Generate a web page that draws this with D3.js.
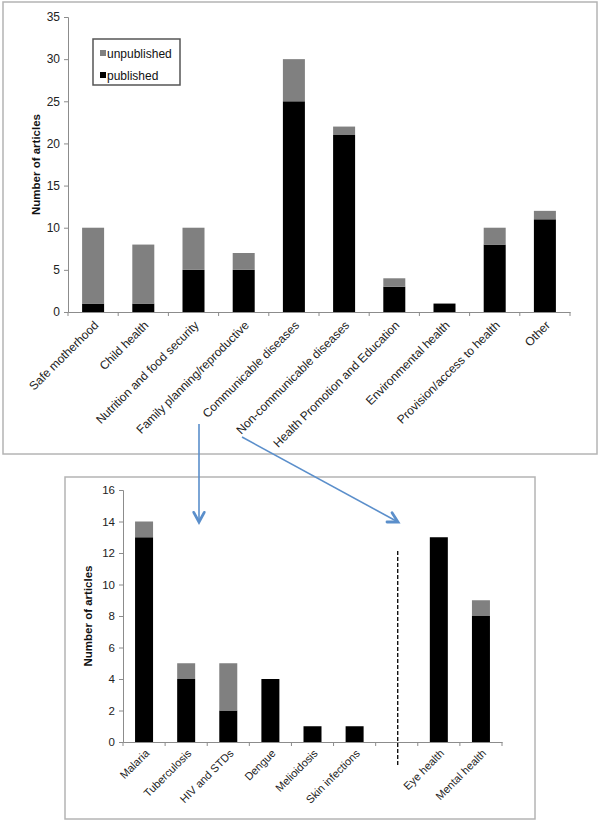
<!DOCTYPE html>
<html><head><meta charset="utf-8">
<script src="https://cdn.jsdelivr.net/npm/d3@7"></script>
<style>body{margin:0;background:#fff}svg{display:block}text{font-family:"Liberation Sans",Arial,sans-serif}</style>
</head><body>
<svg id="c" width="600" height="825"></svg>
<script>
const topCategories = ["Safe motherhood","Child health","Nutrition and food security","Family planning/reproductive","Communicable diseases","Non-communicable diseases","Health Promotion and Education","Environmental health","Provision/access to health","Other"];
const topPublished = [1,1,5,5,25,21,3,1,8,11];
const topUnpublished = [9,7,5,2,5,1,1,0,2,1];
const topTicks = [0,5,10,15,20,25,30,35];

const botCategories = ["Malaria","Tuberculosis","HIV and STDs","Dengue","Melioidosis","Skin infections","","Eye health","Mental health"];
const botPublished = [13,4,2,4,1,1,null,13,8];
const botUnpublished = [1,1,3,0,0,0,null,0,1];
const botTicks = [0,2,4,6,8,10,12,14,16];

const seriesNames = ["published","unpublished"];
const colors = {published:"#000000", unpublished:"#808080"};

const svg = d3.select("#c");

// panel borders
svg.append("rect").attr("x",3).attr("y",2).attr("width",594).attr("height",452)
  .attr("fill","none").attr("stroke","#b4b4b4").attr("stroke-width",1.5);
svg.append("rect").attr("x",65).attr("y",477).attr("width",470).attr("height",342)
  .attr("fill","none").attr("stroke","#b4b4b4").attr("stroke-width",1.5);

function drawChart(cfg){
  const g = svg.append("g");
  const x = d3.scaleBand().domain(d3.range(cfg.cats.length)).range([cfg.x0,cfg.x1]).padding(0);
  const y = d3.scaleLinear().domain([0,cfg.max]).range([cfg.y0,cfg.y1]);
  const rows = cfg.cats.map((c,i)=>({i, published:cfg.pub[i]||0, unpublished:cfg.unpub[i]||0}));
  const stack = d3.stack().keys(seriesNames)(rows);
  const bw = cfg.bw;
  stack.forEach(s=>{
    g.selectAll(null).data(s.filter(d=>d[1]>d[0])).enter().append("rect")
      .attr("x",d=>x(d.data.i)+x.bandwidth()/2-bw/2)
      .attr("width",bw)
      .attr("y",d=>y(d[1]))
      .attr("height",d=>y(d[0])-y(d[1]))
      .attr("fill",colors[s.key]);
  });
  // y axis
  const ya = g.append("g").attr("transform",`translate(${cfg.x0},0)`)
    .call(d3.axisLeft(y).tickValues(cfg.ticks).tickSize(4).tickPadding(4));
  ya.select(".domain").attr("stroke","#8c8c8c");
  ya.selectAll(".tick line").attr("stroke","#8c8c8c");
  ya.selectAll("text").attr("font-size",cfg.tickFont).attr("fill","#222").attr("font-family","Liberation Sans, Arial, sans-serif");
  // x axis
  const xa = g.append("g").attr("transform",`translate(0,${cfg.y0})`)
    .call(d3.axisBottom(x).tickSize(0).tickFormat(i=>cfg.cats[i]));
  xa.select(".domain").attr("stroke","#8c8c8c");
  // tick marks at band boundaries
  d3.range(cfg.cats.length+1).forEach(k=>{
    const xx = cfg.x0 + k*x.step();
    g.append("line").attr("x1",xx).attr("x2",xx).attr("y1",cfg.y0).attr("y2",cfg.y0+4).attr("stroke","#8c8c8c");
  });
  xa.selectAll(".tick text")
    .attr("font-size",cfg.labFont).attr("fill","#222").attr("font-family","Liberation Sans, Arial, sans-serif")
    .attr("text-anchor","end").attr("dy",null).attr("y",0)
    .attr("transform",`translate(${cfg.labDx},${cfg.labDy}) rotate(-45)`);
  // y label
  g.append("text").attr("transform",`translate(${cfg.ylx},${(cfg.y0+cfg.y1)/2+cfg.ylOff}) rotate(-90)`)
    .attr("text-anchor","middle").attr("font-size",cfg.ylFont).attr("font-weight","bold").attr("fill","#111")
    .text("Number of articles");
  return {x,y,g};
}

drawChart({cats:topCategories,pub:topPublished,unpub:topUnpublished,ticks:topTicks,max:35,
  x0:68,x1:570,y0:312,y1:17,bw:22,tickFont:12,labFont:12,labDx:6,labDy:14,ylx:40,ylFont:11.5,ylOff:0});

const bot = drawChart({cats:botCategories,pub:botPublished,unpub:botUnpublished,ticks:botTicks,max:16,
  x0:123,x1:502,y0:742,y1:490,bw:18,tickFont:11.5,labFont:11,labDx:6,labDy:12,ylx:92,ylFont:11.5,ylOff:0});

// dashed separator in the empty slot
const sx = bot.x(6)+bot.x.bandwidth()/2+1;
svg.append("line").attr("x1",sx).attr("x2",sx).attr("y1",551).attr("y2",765)
  .attr("stroke","#000").attr("stroke-width",1.3).attr("stroke-dasharray","4,2");

// legend
const lg = svg.append("g");
lg.append("rect").attr("x",93).attr("y",39).attr("width",87).attr("height",46)
  .attr("fill","#fff").attr("stroke","#555").attr("stroke-width",1.5);
[["unpublished",50],["published",72]].forEach(([k,yy])=>{
  lg.append("rect").attr("x",100).attr("y",yy).attr("width",6).attr("height",6).attr("fill",colors[k]);
  lg.append("text").attr("x",107).attr("y",yy+7.5).attr("font-size",12).attr("fill","#111").text(k);
});

// arrows
const blue = "#5b8fcb";
function arrow(x1,y1,x2,y2){
  svg.append("line").attr("x1",x1).attr("y1",y1).attr("x2",x2).attr("y2",y2)
    .attr("stroke",blue).attr("stroke-width",1.6);
  const a = Math.atan2(y2-y1,x2-x1), L=11, w=0.5;
  const p = [[x2-L*Math.cos(a-w),y2-L*Math.sin(a-w)],[x2,y2],[x2-L*Math.cos(a+w),y2-L*Math.sin(a+w)]];
  svg.append("path").attr("d",d3.line()(p)).attr("fill","none").attr("stroke",blue).attr("stroke-width",2.8)
    .attr("stroke-linecap","round").attr("stroke-linejoin","miter");
}
arrow(199,424,199,522);
arrow(242,437,398,522);
</script>
</body></html>
